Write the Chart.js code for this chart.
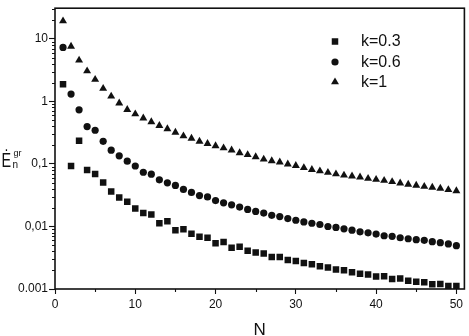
<!DOCTYPE html>
<html>
<head>
<meta charset="utf-8">
<script src="https://cdn.jsdelivr.net/npm/chart.js@4.4.0/dist/chart.umd.min.js"></script>
<style>
  html, body { margin: 0; padding: 0; background: #fff; }
  #wrap { width: 469px; height: 336px; position: relative; }
</style>
</head>
<body>
<div id="wrap"><canvas id="chart"></canvas></div>
<script>
// N values on the x axis
const nValues = [1, 2, 3, 4, 5, 6, 7, 8, 9, 10,
                 11, 12, 13, 14, 15, 16, 17, 18, 19, 20,
                 21, 22, 23, 24, 25, 26, 27, 28, 29, 30,
                 31, 32, 33, 34, 35, 36, 37, 38, 39, 40,
                 41, 42, 43, 44, 45, 46, 47, 48, 49, 50];

// k=0.3 (squares)
const k03 = [1.89, 0.0927, 0.235, 0.0802, 0.0693, 0.0505, 0.0364, 0.029, 0.0248, 0.0194,
             0.0164, 0.0156, 0.0113, 0.0121, 0.00874, 0.00906, 0.00764, 0.00686, 0.0066, 0.0054,
             0.00566, 0.00455, 0.00472, 0.00408, 0.00384, 0.0037, 0.00324, 0.00324, 0.00291, 0.00281,
             0.00261, 0.00248, 0.00232, 0.0022, 0.00205, 0.00199, 0.00185, 0.00175, 0.0017, 0.00159,
             0.0016, 0.00144, 0.00147, 0.00136, 0.00131, 0.00128, 0.00119, 0.0012, 0.00112, 0.00112];

// k=0.6 (circles)
const k06 = [7.31, 1.31, 0.735, 0.396, 0.346, 0.230, 0.166, 0.135, 0.111, 0.0927,
             0.0737, 0.0686, 0.0557, 0.050, 0.0453, 0.0392, 0.0351, 0.0312, 0.0297, 0.0260,
             0.0239, 0.0222, 0.0204, 0.01875, 0.0174, 0.0164, 0.0151, 0.01438, 0.01336, 0.01258,
             0.01182, 0.01127, 0.01075, 0.0100, 0.00965, 0.00916, 0.00874, 0.00822, 0.00793, 0.00756,
             0.00711, 0.00695, 0.0066, 0.00637, 0.00615, 0.00601, 0.00571, 0.00551, 0.00526, 0.00494];

// k=1 (triangles)
const k1 = [19.3, 7.6, 4.56, 3.06, 2.24, 1.61, 1.21, 0.94, 0.74, 0.63,
            0.54, 0.47, 0.41, 0.364, 0.32, 0.28, 0.256, 0.230, 0.211, 0.194,
            0.180, 0.166, 0.150, 0.140, 0.130, 0.119, 0.112, 0.107, 0.0995, 0.094,
            0.087, 0.081, 0.077, 0.073, 0.069, 0.066, 0.0637, 0.0615, 0.0584, 0.0564,
            0.0543, 0.0518, 0.0494, 0.047, 0.0453, 0.0436, 0.0421, 0.0406, 0.0387, 0.037];

const seriesLabels = ['k=0.3', 'k=0.6', 'k=1'];
const xTickValues = [0, 10, 20, 30, 40, 50];
const xMinorTicks = [5, 15, 25, 35, 45];
const yTickValues = [0.001, 0.01, 0.1, 1, 10];
const yTickLabels = ['0.001', '0,01', '0,1', '1', '10'];

const FONT = "'Liberation Sans', Arial, Helvetica, sans-serif";
const INK = '#111';

function toPoints(ys) {
  return nValues.map((n, i) => ({ x: n, y: ys[i] }));
}

// frame, minor ticks, axis titles and legend inside the plot
const decorPlugin = {
  id: 'decor',
  afterDraw(chart) {
    const ctx = chart.ctx;
    const area = chart.chartArea;
    const xs = chart.scales.x;
    const ys = chart.scales.y;
    ctx.save();

    // frame
    ctx.strokeStyle = INK;
    ctx.lineWidth = 1.6;
    ctx.strokeRect(area.left, area.top, area.right - area.left, area.bottom - area.top);

    // minor ticks
    ctx.lineWidth = 1.1;
    ctx.beginPath();
    xMinorTicks.forEach(v => {
      const px = Math.round(xs.getPixelForValue(v)) + 0.5;
      ctx.moveTo(px, area.bottom);
      ctx.lineTo(px, area.bottom + 3);
    });
    yTickValues.forEach(d => {
      for (let m = 2; m <= 9; m++) {
        const v = m * d;
        if (v > ys.max) break;
        const py = Math.round(ys.getPixelForValue(v)) + 0.5;
        ctx.moveTo(area.left, py);
        ctx.lineTo(area.left - 3, py);
      }
    });
    ctx.stroke();

    // x title
    ctx.fillStyle = INK;
    ctx.font = '17px ' + FONT;
    ctx.textAlign = 'center';
    ctx.textBaseline = 'alphabetic';
    ctx.fillText('N', (area.left + area.right) / 2, 334.5);

    // y title: E dot, subscript n, superscript gr
    ctx.textAlign = 'left';
    ctx.save();
    ctx.translate(1.5, 166.5);
    ctx.scale(0.72, 1);
    ctx.font = '20px ' + FONT;
    ctx.fillText('\u0116', 0, 0);
    ctx.restore();
    ctx.font = '10px ' + FONT;
    ctx.fillText('n', 12.5, 168);
    ctx.font = '9px ' + FONT;
    ctx.fillText('gr', 13.5, 156);

    // legend
    const rowY = [41.5, 62, 82];
    chart.data.datasets.forEach((ds, i) => {
      ctx.fillStyle = INK;
      Chart.helpers.drawPoint(ctx, {
        pointStyle: ds.pointStyle,
        radius: ds.pointRadius,
        rotation: 0,
        borderWidth: 0
      }, 335, rowY[i]);
      ctx.font = '16px ' + FONT;
      ctx.textBaseline = 'middle';
      ctx.fillText(ds.label, 361, rowY[i] + 0.5);
    });

    ctx.restore();
  }
};

const ctx = document.getElementById('chart').getContext('2d');
new Chart(ctx, {
  type: 'scatter',
  data: {
    datasets: [
      { label: seriesLabels[0], data: toPoints(k03), pointStyle: 'rect', pointRadius: 4.6,
        backgroundColor: INK, borderWidth: 0 },
      { label: seriesLabels[1], data: toPoints(k06), pointStyle: 'circle', pointRadius: 3.6,
        backgroundColor: INK, borderWidth: 0 },
      { label: seriesLabels[2], data: toPoints(k1), pointStyle: 'triangle', pointRadius: 4.6,
        backgroundColor: INK, borderWidth: 0 }
    ]
  },
  options: {
    responsive: true,
    maintainAspectRatio: false,
    animation: false,
    events: [],
    layout: { padding: { top: 4, right: 4, left: 0, bottom: 0 } },
    plugins: {
      legend: { display: false },
      tooltip: { enabled: false }
    },
    scales: {
      x: {
        type: 'linear',
        min: 0,
        max: 51,
        afterBuildTicks: s => { s.ticks = xTickValues.map(v => ({ value: v })); },
        afterFit: s => { s.height = 47; },
        grid: { drawOnChartArea: false, tickLength: 5, tickColor: INK, tickWidth: 1.1 },
        border: { display: false },
        ticks: { font: { family: FONT, size: 12 }, color: INK, padding: 3, maxRotation: 0 }
      },
      y: {
        type: 'logarithmic',
        min: 0.001,
        max: 31,
        afterBuildTicks: s => { s.ticks = yTickValues.map(v => ({ value: v })); },
        afterFit: s => { s.width = 55; },
        grid: { drawOnChartArea: false, tickLength: 6, tickColor: INK, tickWidth: 1.1 },
        border: { display: false },
        ticks: {
          font: { family: FONT, size: 12 },
          color: INK,
          padding: 1,
          callback: v => yTickLabels[yTickValues.indexOf(v)]
        }
      }
    }
  },
  plugins: [decorPlugin]
});
</script>
</body>
</html>
